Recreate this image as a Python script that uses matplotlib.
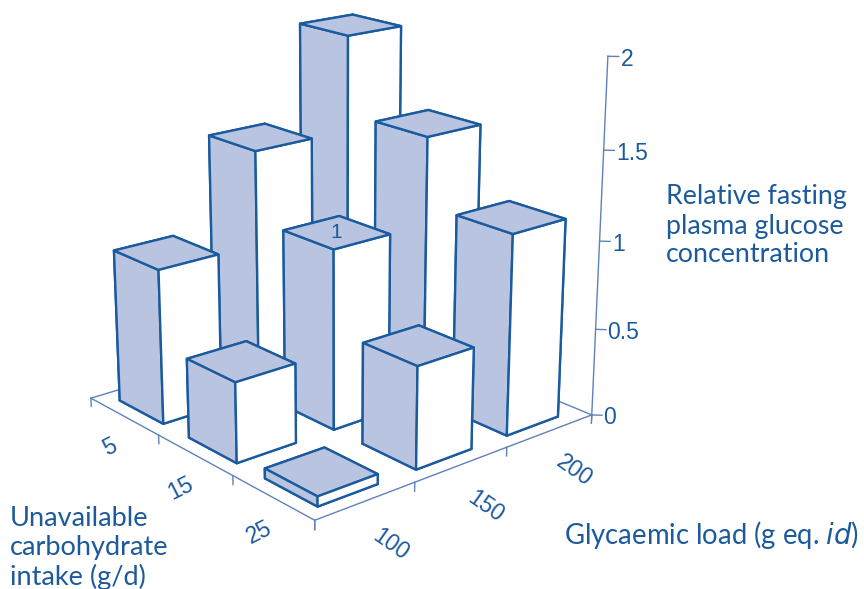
import numpy as np
import matplotlib
matplotlib.use('Agg')
import matplotlib.pyplot as plt
from mpl_toolkits.mplot3d import proj3d

plt.rcParams['font.family'] = ['Lato', 'DejaVu Sans']

carb_labels = ['25', '15', '5']
gl_labels = ['100', '150', '200']
z_ticks = [0, 0.5, 1, 1.5, 2]
z_tick_labels = ['0', '0.5', '1', '1.5', '2']

# rows go front to back (carb 25, 15, 5), columns gl 100, 150, 200
carb25 = [0.055, 0.57, 1.13]
carb15 = [0.45, 1.02, 1.51]
carb5 = [0.88, 1.41, 1.95]
values = [carb25, carb15, carb5]

blue = '#1a5a9e'
thin = '#5f82bb'
lav = '#b9c4e0'
text_col = '#1c5a9c'
num_font = ['Liberation Sans', 'DejaVu Sans']

fig = plt.figure(figsize=(8.64, 5.89), dpi=100)
ax = fig.add_axes([-0.119, -0.014, 1.0, 1.2], projection='3d', computed_zorder=False)
ax.set_proj_type('persp', focal_length=0.5)
ax.view_init(elev=18.2, azim=-130.2)
ax.set_box_aspect((1, 1, 1.02), zoom=0.877)
ax.set_xlim(0, 3)
ax.set_ylim(0, 3)
ax.set_zlim(0, 2)
ax.set_axis_off()


def label3d(x, y, z, s, **kw):
    # text3d ignores rotation, so go through the projection
    px, py, _ = proj3d.proj_transform(x, y, z, ax.get_proj())
    ax.text2D(px, py, s, transform=ax.transData, color=text_col, family=num_font, **kw)


# floor outline
ax.plot([0, 3, 3], [3, 3, 0], [0, 0, 0], color=thin, lw=1, zorder=1)
ax.plot([0, 0, 3], [3, 0, 0], [0, 0, 0], color=thin, lw=1, zorder=1)

# ticks on the front edges
for i in range(4):
    ax.plot([0, 0], [i, i], [0, -0.05], color=thin, lw=1, zorder=1)
    ax.plot([i, i], [0, 0], [0, -0.05], color=thin, lw=1, zorder=1)

for i in range(3):
    label3d(-0.2, i + 0.42, -0.13, carb_labels[i], fontsize=16.5, rotation=27,
            ha='center', va='center')
    label3d(i + 0.5, -0.28, -0.17, gl_labels[i], fontsize=16.5, rotation=-35,
            ha='center', va='center')

# z axis
ax.plot([3, 3], [0, 0], [-0.03, 2], color=thin, lw=1, zorder=1)
for t, lab in zip(z_ticks, z_tick_labels):
    ax.plot([3, 3.06], [0, -0.06], [t, t], color=thin, lw=1, zorder=1)
    label3d(3.07, -0.07, t - 0.015, lab, fontsize=16.5, ha='left', va='center')

# bars back to front
face_cols = [lav, lav, 'white', 'white', lav, lav]
order = 2
for r in [2, 1, 0]:
    for c in [2, 1, 0]:
        ax.bar3d(c + 0.16, r + 0.16, 0, 0.6, 0.64, values[r][c], color=face_cols,
                 shade=False, edgecolor=blue, linewidth=1.7, zorder=order)
        order += 1
        if r == 1 and c == 1:
            label3d(c + 0.45, r + 0.47, values[r][c], '1', fontsize=15,
                    ha='center', va='center', zorder=order)
            order += 1

fig.text(666 / 864, 1 - 197 / 589, 'Relative fasting', color=text_col, fontsize=19.3, va='center')
fig.text(666 / 864, 1 - 226 / 589, 'plasma glucose', color=text_col, fontsize=19.3, va='center')
fig.text(666 / 864, 1 - 255 / 589, 'concentration', color=text_col, fontsize=19.3, va='center')
fig.text(564 / 864, 1 - 535 / 589, 'Glycaemic load (g eq. $\\mathit{id}$)', color=text_col,
         fontsize=19.8, va='center')
fig.text(10 / 864, 1 - 518 / 589, 'Unavailable', color=text_col, fontsize=19.5, va='center')
fig.text(10 / 864, 1 - 548 / 589, 'carbohydrate', color=text_col, fontsize=19.5, va='center')
fig.text(10 / 864, 1 - 577 / 589, 'intake (g/d)', color=text_col, fontsize=19.5, va='center')

fig.savefig('out.png', dpi=100)
